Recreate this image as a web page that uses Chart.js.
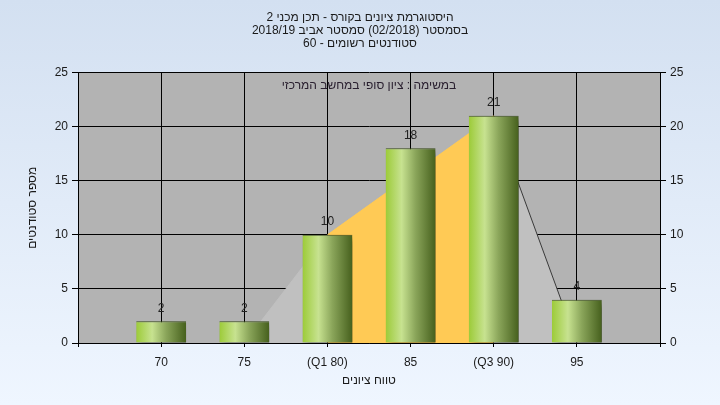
<!DOCTYPE html>
<html>
<head>
<meta charset="utf-8">
<script src="https://cdn.jsdelivr.net/npm/chart.js@4.4.0/dist/chart.umd.min.js"></script>
<style>
body{margin:0}
#wrap{width:720px;height:405px;background:linear-gradient(#d3e0f1,#eff6ff)}
</style>
</head>
<body>
<div id="wrap"><canvas id="histogram" dir="rtl"></canvas></div>
<script>
// grades and how many students got each
var grades=["70","75","(Q1 80)","85","(Q3 90)","95"];
var students=[2,2,10,18,21,4];
// the shaded trapezoid behind the bars
var areaGrades=["75","(Q1 80)","(Q3 90)","95"];
var areaValues=[0,10,21,0];
var yTicks=[0,5,10,15,20,25];

var titleLines=["היסטוגרמת ציונים בקורס - תכן מכני 2","בסמסטר (02/2018) סמסטר אביב 2018/19","סטודנטים רשומים - 60"];
var innerTitle="במשימה : ציון סופי במחשב המרכזי";

var fontFam="'Liberation Sans', 'DejaVu Sans', Arial, sans-serif";
Chart.defaults.font.family=fontFam;
Chart.defaults.font.size=12;
Chart.defaults.color="#1a1a1a";

function pts(i,j){
  var out=[];
  for(var k=i;k<=j;k++) out.push({x:areaGrades[k],y:areaValues[k]});
  return out;
}

var plotBack={
  id:"plotBack",
  beforeDraw:function(chart){
    var a=chart.chartArea, ctx=chart.ctx;
    ctx.save();
    ctx.fillStyle="#b3b3b3";
    ctx.fillRect(a.left,a.top,a.right-a.left,a.bottom-a.top);
    ctx.restore();
  },
  beforeDatasetDraw:function(chart,args){
    if(args.meta.type!=="bar") return;
    var ctx=chart.ctx;
    ctx.save();
    ctx.shadowColor="rgba(0,0,0,0.6)";
    ctx.shadowBlur=6;
    ctx.shadowOffsetX=4;
    ctx.shadowOffsetY=4;
  },
  afterDatasetDraw:function(chart,args){
    if(args.meta.type!=="bar") return;
    chart.ctx.restore();
  },
  afterDatasetsDraw:function(chart){
    var ctx=chart.ctx, a=chart.chartArea;
    ctx.save();
    ctx.font="12px "+fontFam;
    ctx.fillStyle="#222";
    ctx.textAlign="center";
    ctx.textBaseline="middle";
    var meta=chart.getDatasetMeta(3);
    meta.data.forEach(function(el,i){
      ctx.fillText(String(students[i]),el.x,el.y-13);
    });
    ctx.direction="rtl";
    ctx.fillStyle="#2a2030";
    ctx.fillText(innerTitle,(a.left+a.right)/2,a.top+13);
    ctx.restore();
  }
};

var ctxHist=document.getElementById("histogram");
var histogram=new Chart(ctxHist,{
  type:"bar",
  data:{
    labels:[""].concat(grades).concat([" "]),
    datasets:[{
      type:"line",
      data:pts(0,1),
      fill:"origin",
      backgroundColor:"#c0c0c0",
      borderColor:"#c0c0c0",
      borderWidth:1,
      pointRadius:0,
      tension:0,
      order:2
    },{
      type:"line",
      data:pts(1,2),
      fill:"origin",
      backgroundColor:"#ffca55",
      borderColor:"#ffca55",
      borderWidth:1,
      pointRadius:0,
      tension:0,
      order:2
    },{
      type:"line",
      data:pts(2,3),
      fill:"origin",
      backgroundColor:"#c0c0c0",
      borderColor:"#3a3a3a",
      borderWidth:1,
      pointRadius:0,
      tension:0,
      order:2
    },{
      type:"bar",
      data:students.map(function(v,i){return {x:grades[i],y:v};}),
      order:1,
      clip:false,
      categoryPercentage:1,
      barPercentage:0.6,
      borderWidth:{top:1,left:0,right:0,bottom:0},
      borderColor:"#3f5220",
      borderSkipped:false,
      backgroundColor:function(c){
        var chart=c.chart;
        if(!chart.chartArea||c.dataIndex===undefined) return "#9dc840";
        var sx=chart.scales.x;
        var cx=sx.getPixelForValue(c.dataIndex+1);
        var half=(sx.getPixelForValue(2)-sx.getPixelForValue(1))*0.3;
        var g=chart.ctx.createLinearGradient(cx-half,0,cx+half,0);
        g.addColorStop(0,"#9ccb38");
        g.addColorStop(0.32,"#c7e290");
        g.addColorStop(0.6,"#8aa55a");
        g.addColorStop(1,"#46601d");
        return g;
      }
    }]
  },
  options:{
    responsive:true,
    maintainAspectRatio:false,
    animation:false,
    layout:{padding:0},
    plugins:{
      legend:{display:false},
      tooltip:{enabled:false},
      title:{
        display:true,
        text:titleLines,
        font:{size:12,weight:"normal",lineHeight:1.1},
        color:"#1a1a1a",
        padding:{top:11,bottom:22}
      }
    },
    scales:{
      x:{
        offset:false,
        grid:{color:"#000",offset:false,tickLength:4},
        border:{color:"#000",z:1},
        ticks:{autoSkip:false,maxRotation:0,padding:8,color:"#1a1a1a"},
        title:{display:true,text:"טווח ציונים",padding:{top:0,bottom:17},color:"#1a1a1a"},
        afterFit:function(s){s.height=62;}
      },
      y:{
        position:"left",
        min:0,max:25,
        afterBuildTicks:function(s){s.ticks=yTicks.map(function(v){return {value:v};});},
        grid:{color:"#000",tickLength:6},
        border:{color:"#000"},
        ticks:{padding:4,color:"#1a1a1a"},
        title:{display:true,text:"מספר סטודנטים",padding:{top:25,bottom:0},color:"#1a1a1a"},
        afterFit:function(s){s.width=78;}
      },
      y2:{
        position:"right",
        min:0,max:25,
        afterBuildTicks:function(s){s.ticks=yTicks.map(function(v){return {value:v};});},
        grid:{color:"#000",tickLength:6,drawOnChartArea:false},
        border:{color:"#000"},
        ticks:{padding:4,color:"#1a1a1a"},
        afterFit:function(s){s.width=60;}
      }
    }
  },
  plugins:[plotBack]
});
</script>
</body>
</html>
